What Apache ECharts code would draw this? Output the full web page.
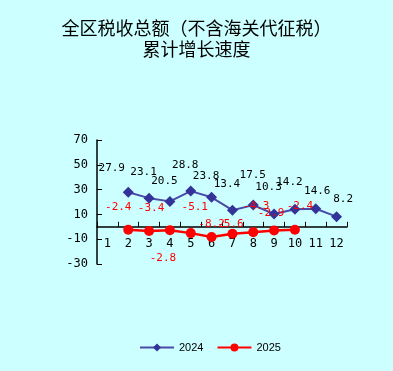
<!DOCTYPE html>
<html>
<head>
<meta charset="utf-8">
<script src="https://cdn.jsdelivr.net/npm/echarts@6/dist/echarts.min.js"></script>
<style>
html,body{margin:0;padding:0;background:#ccffff;}
#c{width:393px;height:371px;}
</style>
</head>
<body>
<div id="c"></div>
<script>
var months = ['1','2','3','4','5','6','7','8','9','10','11','12'];
var yTicks = [-30, -10, 10, 30, 50, 70];
var s2024 = [null, 27.9, 23.1, 20.5, 28.8, 23.8, 13.4, 17.5, 10.3, 14.2, 14.6, 8.2];
var s2025 = [null, -2.4, -3.4, -2.8, -5.1, -8.2, -5.6, -4.3, -2.9, -2.4, null, null];
var title1 = '全区税收总额（不含海关代征税）';
var title2 = '累计增长速度';

// label offsets [dx, dy] relative to the data point (styling only)
var off2024 = [null, [-11,-19],[0,-21],[0,-15],[0,-20],[0,-16],[0,-21],[5,-24],[0,-21],[0,-22],[7,-12],[12,-12]];
var off2025 = [null, [-5,-18],[7,-18],[-2,33],[9,-21],[5,-8],[3,-5],[8,-21],[2,-12],[10,-19],null,null];

var numFont = 'DejaVu Sans Mono';
function mk(arr, offs, color) {
  return arr.map(function (v, i) {
    if (v === null) return null;
    var o = offs[i];
    return {
      value: v,
      label: {show: true, position: [0, 0], offset: [o[0], o[1]], align: 'center', verticalAlign: 'middle',
        color: color, fontFamily: numFont, fontSize: 11, formatter: function (p) { return p.value.toFixed(1); }}
    };
  });
}

var gridTop = 140, gridBottom = 107, H = 371;
var yMin = yTicks[0], yMax = yTicks[yTicks.length - 1];
var plotH = H - gridTop - gridBottom;
var zeroShift = plotH * (0 - yMin) / (yMax - yMin);

var chart = echarts.init(document.getElementById('c'));
chart.setOption({
  backgroundColor: '#ccffff',
  animation: false,
  title: {
    text: title1 + '\n' + title2,
    left: 'center', top: 13,
    textStyle: {fontFamily: 'Noto Sans CJK SC', fontSize: 18, fontWeight: 'normal', color: '#000', lineHeight: 21}
  },
  legend: {
    bottom: 13, left: 134,
    itemWidth: 34, itemHeight: 10, itemGap: 13,
    textStyle: {fontFamily: 'Liberation Sans', fontSize: 11, color: '#000'},
    data: ['2024', '2025']
  },
  grid: {left: 97, right: 46, top: gridTop, bottom: gridBottom, containLabel: false},
  xAxis: {
    type: 'category', data: months, boundaryGap: true,
    position: 'bottom', offset: -zeroShift,
    axisLine: {onZero: false, lineStyle: {color: '#000', width: 1.5}},
    axisTick: {show: true, inside: true, length: 5, lineStyle: {color: '#000'}},
    axisLabel: {color: '#000', fontFamily: numFont, fontSize: 12, margin: 11}
  },
  yAxis: {
    type: 'value', min: yMin, max: yMax, interval: 20,
    axisLine: {show: true, lineStyle: {color: '#000', width: 1.5}},
    axisTick: {show: true, inside: true, length: 5, lineStyle: {color: '#000'}},
    splitLine: {show: false},
    axisLabel: {color: '#000', fontFamily: numFont, fontSize: 12, margin: 9}
  },
  series: [
    {
      name: '2024', type: 'line', data: mk(s2024, off2024, '#000'),
      symbol: 'diamond', symbolSize: 11,
      itemStyle: {color: '#333399'},
      lineStyle: {color: '#4a4aa8', width: 2},
      connectNulls: false
    },
    {
      name: '2025', type: 'line', data: mk(s2025, off2025, '#ff0000'),
      symbol: 'circle', symbolSize: 10,
      itemStyle: {color: '#ff0000'},
      lineStyle: {color: '#ff0000', width: 2.5},
      connectNulls: false
    }
  ]
});
</script>
</body>
</html>
